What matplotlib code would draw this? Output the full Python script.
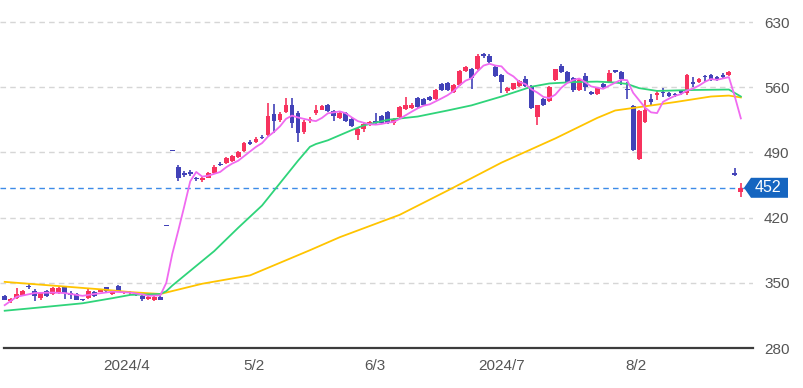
import matplotlib
matplotlib.use("Agg")
import matplotlib.pyplot as plt
from matplotlib.patches import Polygon
from matplotlib.transforms import blended_transform_factory
import numpy as np

plt.rcParams['font.family'] = ['Liberation Sans', 'DejaVu Sans']

# ---------------- data ----------------
opens = [336, 330, 334, 337, 346, 341, 334, 341, 338, 339, 345, 339, 338, 332, 334, 340, 340.5, 345, 338, 347,
         339, 339, 339, 336, 333, 332, 335, 411, 491, 474, 468, 469, 463, 460, 463, 468, 478, 479, 481, 485,
         491, 501, 501, 507, 509, 531, 525, 533, 541, 532, 512, 524, 532, 536, 541, 534, 527, 532, 526, 509,
         515, 519, 523, 529, 533, 522, 528, 537, 538, 548, 547, 550, 547, 563, 565, 555, 562, 577, 580, 580,
         596, 594, 582, 573, 556, 558, 561, 569, 560.5, 528, 547, 545, 568, 583, 576, 570, 557, 572, 555, 553,
         563, 565.5, 578.5, 576, 558, 540, 483, 523, 547, 551.5, 554.5, 554, 553, 556, 553.5, 566, 566, 571, 573, 571,
         573, 573, 468, 448]
highs = [337, 334, 344, 342, 349, 343, 340, 342, 345, 345, 346, 341, 339, 333, 343, 341, 342, 346, 342, 348,
         341, 341, 340, 337, 336, 336, 336, 411, 491, 476, 470, 471, 464, 464, 469, 476, 480, 485, 487, 491,
         501, 503, 506, 509, 543, 542, 533, 548, 548, 534, 525, 528, 541, 541, 542, 535, 533, 533, 527, 516,
         522, 524, 532, 530, 534, 527, 540, 550, 543, 549, 548, 551, 558, 564, 566, 563, 578, 583, 581, 596,
         597, 596, 584, 574, 560, 565, 568, 572, 562, 541, 548, 561, 580, 585, 577, 571, 569, 575, 556, 560,
         564, 579, 579, 577, 566, 541, 535, 546, 553, 557, 559, 555, 554, 557, 574, 571, 570, 573.5, 574, 572,
         575, 577, 473, 457]
lows = [331, 328, 333, 336, 343, 330, 331, 335, 337, 338, 333, 333, 331, 330, 333, 335, 340, 340, 337, 340,
        338, 337, 336, 330, 332, 330, 331, 411, 491, 459, 464, 465, 459, 458, 462, 467, 475, 478, 480, 484,
        490, 498, 500, 504, 508, 511, 523, 532, 516, 501, 510, 522, 530, 535, 533, 524, 526, 523, 517, 503,
        512, 518, 521, 521, 521, 519, 527, 536, 537, 538, 540, 545, 546, 556, 556, 554, 561, 576, 558, 579,
        591, 586, 571, 554, 554, 557, 560, 560, 537, 519, 540, 544, 567, 575, 565, 555, 556, 556, 552, 552,
        558, 565, 575, 562, 547, 492, 482, 522, 541, 546, 549, 550, 550, 552, 552, 560, 565, 566, 567, 567,
        569, 572, 465, 442]
closes = [332, 333, 338, 341, 345, 336, 339, 336, 344, 344, 339, 337, 332, 331, 341, 336, 341, 341, 341, 341,
          340, 339.5, 337.5, 333, 335, 335, 332, 411, 491, 462, 466, 467, 461, 463, 468, 474, 476.5, 484, 486, 490,
          500, 499, 504, 505, 529, 524, 531, 541, 522, 511, 523, 526, 536, 540, 534, 529, 532, 524, 518, 515,
          521, 523, 522, 522, 522, 525.5, 539, 541, 541, 539, 541, 546, 557, 557, 557, 562, 577, 582, 570, 594,
          593, 587, 572, 566, 559, 564, 567, 561, 538, 541, 541, 560.5, 579.5, 576, 566, 557, 568, 560, 553, 559.5,
          560.5, 575, 576, 569, 557, 493, 534.5, 536, 544, 553.5, 553.5, 551, 551.5, 553.5, 573, 563.5, 568.5, 570.5, 568.5, 568.5,
          570.6, 576, 465.5, 452]

ma5_idx = [0, 2, 5, 8, 10, 13, 15, 18, 21, 23, 24, 26] + list(range(27, 124))
ma5_val = [326, 335, 339, 339.5, 339, 336, 338, 340.5, 339.5, 337.5, 336, 336.5,
           350, 381, 406, 432, 459, 469, 464, 465, 467, 469, 474, 478, 481, 486, 491, 496, 500, 507,
           512, 518, 526, 529.5, 527.5, 526, 524.6, 523.6, 527, 532, 533, 534, 532, 527.5, 523.6, 521.8,
           520.2, 519.8, 520.6, 522, 522.7, 526.1, 529.9, 533.7, 537.3, 540.2, 541.6, 544.8, 548, 551.4, 555.8,
           562, 567, 569.6, 577, 583.2, 585.2, 583.2, 582.4, 575.4, 571.6, 565.6, 563.4, 557.8, 554.2, 549.6,
           548.3, 552, 559.4, 564.6, 567.8, 569.3, 565.4, 560.8, 559.5, 558.3, 561.6, 564.8, 568, 567.5, 554,
           546, 538, 533, 532.2, 544.3, 547.7, 550.7, 552.6, 556.5, 558.5, 561.7, 565.8, 568.8, 567.9, 569.4,
           570.8, 549.8, 526.5]

ma25_idx = [0, 5, 13, 18, 21, 26, 27, 28, 35, 39, 43, 46, 49, 51, 52, 54, 58, 60, 64, 69, 74, 78, 83, 88, 91,
            95, 99, 102, 104, 106, 109, 115, 121, 123]
ma25_val = [320, 323, 328, 333.5, 337, 338, 341, 347, 384, 409, 433, 457, 481, 496, 499, 503, 514, 519, 525,
            528.5, 535, 540.5, 550, 560.5, 564, 565.5, 566, 565, 563.5, 559, 556, 557, 557.5, 550]

ma75_idx = [0, 10, 16, 21, 26, 33, 41, 51, 56, 66, 74, 83, 92, 99, 102, 107, 112, 118, 121, 123]
ma75_val = [351, 346, 343, 340, 338, 349, 358, 385, 399, 423, 449, 479, 505, 527, 535, 539.5, 544, 550, 551, 549]

last_price = 452
yticks = [280, 350, 420, 490, 560, 630]
xtick_pos = [20.43, 41.57, 61.79, 83.01, 105.48]
xtick_labels = ["2024/4", "5/2", "6/3", "2024/7", "8/2"]

# ---------------- style ----------------
UP = "#f7325e"
DOWN = "#4242b8"
PINK = "#f06af0"
GREEN = "#2fd47a"
YELLOW = "#ffc400"
TAG = "#1565c0"

W, H = 804, 388
fig = plt.figure(figsize=(W / 100, H / 100), dpi=100)
ax_left, ax_right, ax_bottom = 0, 753, 348
ax = fig.add_axes([ax_left / W, 1 - ax_bottom / H, (ax_right - ax_left) / W, ax_bottom / H])

px_per_idx = 5.985
x0_px = 4.7
xmin = (ax_left - x0_px) / px_per_idx
xmax = (ax_right - x0_px) / px_per_idx
units_per_px = (630 - 280) / (348 - 22)
ymax = 280 + ax_bottom * units_per_px
ax.set_xlim(xmin, xmax)
ax.set_ylim(280, ymax)

o = np.array(opens, float)
h = np.array(highs, float)
l = np.array(lows, float)
c = np.array(closes, float)
idx = np.arange(len(o))
up = c > o
colors = np.where(up, UP, DOWN)

ax.vlines(idx, l, h, colors=colors, linewidth=1.2, zorder=2)
body_bottom = np.minimum(o, c)
body_h = np.maximum(np.abs(c - o), 1.3 * units_per_px)
ax.bar(idx, body_h, bottom=body_bottom, width=0.8, color=colors, edgecolor='none', zorder=2.1)

ax.plot(ma75_idx, ma75_val, color=YELLOW, lw=1.3, zorder=3)
ax.plot(ma25_idx, ma25_val, color=GREEN, lw=1.3, zorder=3)
ax.plot(ma5_idx, ma5_val, color=PINK, lw=1.3, zorder=3.1)

# current price line
ax.axhline(last_price, color="#3d8be8", lw=1.0, ls=(0, (4, 3)), zorder=1.5)

# grid
ax.set_yticks(yticks)
ax.yaxis.tick_right()
ax.grid(axis='y', color="#d6d6d6", lw=1.0, ls=(0, (4, 3)), zorder=0)
ax.set_axisbelow(True)
ax.tick_params(axis='y', length=0, pad=8, labelsize=11, labelcolor="#555555")
ax.set_xticks(xtick_pos)
ax.set_xticklabels(xtick_labels)
ax.tick_params(axis='x', length=0, pad=8, labelsize=11, labelcolor="#555555")

for s in ['top', 'left', 'right']:
    ax.spines[s].set_visible(False)
ax.spines['bottom'].set_color("#3c3c3c")
ax.spines['bottom'].set_linewidth(1.6)
ax.spines['bottom'].set_bounds((0 - x0_px + 4) / px_per_idx, xmax)

# price tag
tr = blended_transform_factory(fig.transFigure, ax.transData)
hh = 10 * units_per_px
pts = [(744 / W, last_price), (751 / W, last_price + hh), (788 / W, last_price + hh),
       (788 / W, last_price - hh), (751 / W, last_price - hh)]
tag = Polygon(pts, closed=True, transform=tr, facecolor=TAG, edgecolor='none', clip_on=False, zorder=5)
fig.add_artist(tag)
fig.text(768 / W, 0, str(last_price), transform=tr, ha='center', va='center', color='white',
         fontsize=11.5, zorder=6).set_y(last_price)

fig.savefig("out.png", dpi=100)
